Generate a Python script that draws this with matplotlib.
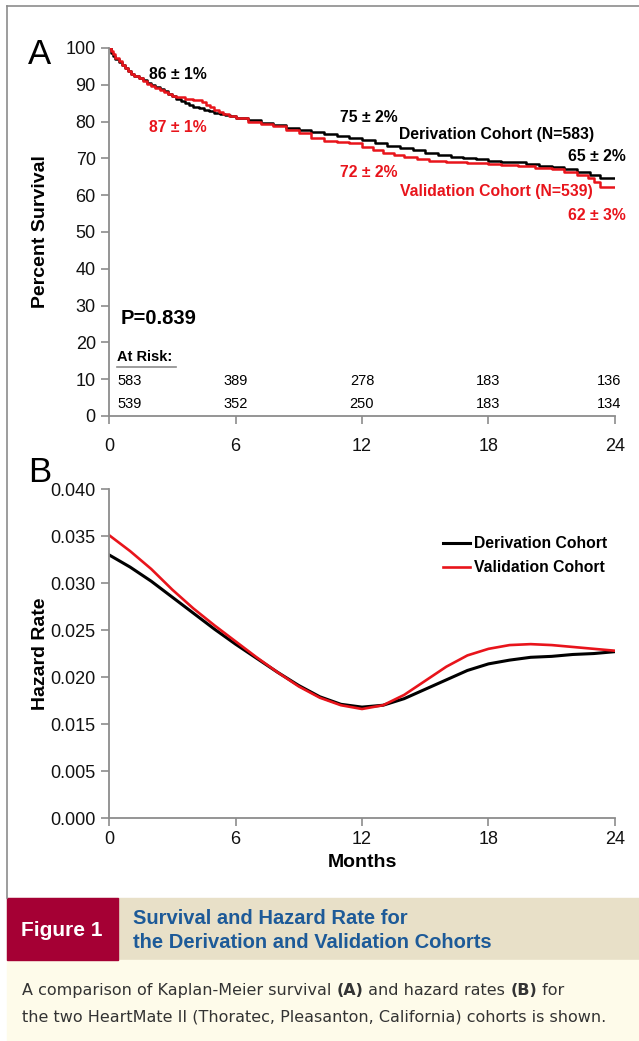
import numpy as np
import matplotlib
matplotlib.use('Agg')
import matplotlib.pyplot as plt
from matplotlib.lines import Line2D
from matplotlib.patches import Rectangle

plt.rcParams['font.family'] = ['Liberation Sans', 'DejaVu Sans']

# Kaplan-Meier survival, months vs percent
deriv_t = [0, 0.1, 0.2, 0.3, 0.45, 0.6, 0.75, 0.9, 1.05, 1.2, 1.4, 1.6, 1.8, 2.0, 2.2, 2.4,
           2.6, 2.8, 3.0, 3.2, 3.4, 3.6, 3.8, 4.0, 4.25, 4.5, 4.75, 5.0, 5.25, 5.5, 5.75, 6.0,
           6.6, 7.2, 7.8, 8.4, 9.0, 9.6, 10.2, 10.8, 11.4, 12.0, 12.6, 13.2, 13.8, 14.4, 15.0,
           15.6, 16.2, 16.8, 17.4, 18.0, 18.6, 19.2, 19.8, 20.4, 21.0, 21.6, 22.2, 22.8, 23.3, 24]
deriv_s = [100, 98.6, 97.8, 97.0, 96.2, 95.4, 94.6, 93.8, 93.0, 92.4, 91.8, 91.2, 90.6, 90.0,
           89.4, 88.8, 88.2, 87.6, 87.0, 86.2, 85.6, 85.0, 84.5, 84.0, 83.6, 83.2, 82.8, 82.4,
           82.0, 81.7, 81.4, 81.0, 80.5, 79.6, 79, 78.3, 77.8, 77.2, 76.6, 76, 75.5, 75, 74.3,
           73.5, 72.8, 72.2, 71.6, 71, 70.4, 70, 69.7, 69.3, 69.1, 69, 68.5, 68, 67.6, 67, 66.2,
           65.5, 64.7, 64.7]
valid_t = [0, 0.1, 0.2, 0.3, 0.45, 0.6, 0.75, 0.9, 1.05, 1.2, 1.4, 1.6, 1.8, 2.0, 2.2, 2.4,
           2.6, 2.8, 3.0, 3.2, 3.6, 4.0, 4.4, 4.6, 4.8, 5.0, 5.2, 5.4, 5.7, 6.0, 6.6, 7.2, 7.8,
           8.4, 9.0, 9.6, 10.2, 10.8, 11.4, 12.0, 12.5, 13.0, 13.5, 14.0, 14.6, 15.2, 16.0, 17.0,
           18.0, 18.6, 19.4, 20.2, 21.0, 21.6, 22.2, 22.7, 23.0, 23.3, 24]
valid_s = [100, 99.2, 98.4, 97.4, 96.4, 95.4, 94.6, 93.8, 93.0, 92.4, 91.8, 91.0, 90.2, 89.6,
           89.0, 88.5, 88.0, 87.5, 87.0, 86.7, 86.2, 85.8, 85.3, 84.6, 83.9, 83.2, 82.6, 82.0,
           81.5, 81, 80, 79.3, 78.8, 77.8, 76.8, 75.5, 74.7, 74.5, 74.2, 73, 72.3, 71.6, 71,
           70.3, 69.7, 69.2, 68.9, 68.8, 68.5, 68.2, 67.8, 67.5, 67, 66.3, 65.6, 64.8, 63.5,
           62.2, 62.2]

risk_months = [0, 6, 12, 18, 24]
risk_deriv = [583, 389, 278, 183, 136]
risk_valid = [539, 352, 250, 183, 134]

# hazard rate by month
haz_months = list(range(25))
haz_deriv = [0.0330, 0.0317, 0.0302, 0.0285, 0.0268, 0.0251, 0.0235, 0.0220, 0.0205, 0.0191,
             0.0179, 0.0171, 0.0168, 0.0170, 0.0177, 0.0187, 0.0197, 0.0207, 0.0214, 0.0218,
             0.0221, 0.0222, 0.0224, 0.0225, 0.0227]
haz_valid = [0.0351, 0.0334, 0.0315, 0.0293, 0.0273, 0.0255, 0.0238, 0.0221, 0.0205, 0.0190,
             0.0178, 0.0170, 0.0166, 0.0170, 0.0181, 0.0196, 0.0211, 0.0223, 0.0230, 0.0234,
             0.0235, 0.0234, 0.0232, 0.0230, 0.0228]
# the original axis skips 0.010 in its labels
haz_ticks = [0.005, 0.010, 0.015, 0.020, 0.025, 0.030, 0.035, 0.040]
haz_ticklabels = ['0.000', '0.005', '0.015', '0.020', '0.025', '0.030', '0.035', '0.040']

RED = '#e8141b'
GRAY = '#8c8c8c'

fig = plt.figure(figsize=(6.39, 10.41), dpi=100)

def style_axes(ax):
    for s in ['top', 'right']:
        ax.spines[s].set_visible(False)
    for s in ['left', 'bottom']:
        ax.spines[s].set_color(GRAY)
        ax.spines[s].set_linewidth(1.3)
    ax.tick_params(colors=GRAY, width=1.2, length=6, labelcolor='#111111', labelsize=13)

# ---- panel A
ax1 = fig.add_axes([0.1706, 0.6004, 0.7918, 0.3535])
ax1.step(deriv_t, deriv_s, where='post', color='black', lw=1.8)
ax1.step(valid_t, valid_s, where='post', color=RED, lw=1.8)
ax1.set_xlim(0, 24)
ax1.set_ylim(0, 100)
ax1.set_xticks([0, 6, 12, 18, 24])
ax1.set_yticks(range(0, 101, 10))
style_axes(ax1)
ax1.tick_params(axis='x', pad=10)
ax1.set_ylabel('Percent Survival', fontsize=14, fontweight='bold', labelpad=12)

lab = dict(fontsize=11.3, fontweight='bold', ha='center', va='center')
ax1.text(3.27, 92.7, '86 ± 1%', color='black', **lab)
ax1.text(3.27, 78.3, '87 ± 1%', color=RED, **lab)
ax1.text(12.3, 81.0, '75 ± 2%', color='black', **lab)
ax1.text(12.3, 66.3, '72 ± 2%', color=RED, **lab)
ax1.text(18.36, 76.6, 'Derivation Cohort (N=583)', color='black', **lab)
ax1.text(18.36, 60.9, 'Validation Cohort (N=539)', color=RED, **lab)
ax1.text(23.15, 70.4, '65 ± 2%', color='black', **lab)
ax1.text(23.15, 54.6, '62 ± 3%', color=RED, **lab)

ax1.text(0.55, 26.6, 'P=0.839', fontsize=14.5, fontweight='bold', va='center')
ax1.text(0.38, 16.0, 'At Risk:', fontsize=10.5, fontweight='bold', va='center')
ax1.plot([0.38, 3.2], [13.2, 13.2], color=GRAY, lw=1.2, clip_on=False)
for i, m in enumerate(risk_months):
    ha = 'left' if i == 0 else ('right' if i == len(risk_months) - 1 else 'center')
    x = 0.38 if i == 0 else (24.3 if i == len(risk_months) - 1 else m)
    ax1.text(x, 9.5, str(risk_deriv[i]), fontsize=10.5, ha=ha, va='center', clip_on=False)
    ax1.text(x, 3.3, str(risk_valid[i]), fontsize=10.5, ha=ha, va='center', clip_on=False)

fig.text(40 / 639, 1 - 55 / 1041, 'A', fontsize=25, ha='center', va='center')

# ---- panel B
ax2 = fig.add_axes([0.1706, 0.2142, 0.7918, 0.3160])
ax2.plot(haz_months, haz_deriv, color='black', lw=2.2, label='Derivation Cohort')
ax2.plot(haz_months, haz_valid, color=RED, lw=1.9, label='Validation Cohort')
ax2.set_xlim(0, 24)
ax2.set_ylim(0.005, 0.040)
ax2.set_xticks([0, 6, 12, 18, 24])
ax2.set_yticks(haz_ticks)
ax2.set_yticklabels(haz_ticklabels)
style_axes(ax2)
ax2.tick_params(axis='x', pad=3)
ax2.set_ylabel('Hazard Rate', fontsize=14, fontweight='bold', labelpad=1)
ax2.set_xlabel('Months', fontsize=14, fontweight='bold', labelpad=5)
ax2.legend(loc='upper left', bbox_to_anchor=(0.645, 0.88), frameon=False,
           prop={'weight': 'bold', 'size': 11.3}, handlelength=1.7, handletextpad=0.25,
           labelspacing=0.55, borderpad=0)

fig.text(40 / 639, 1 - 472 / 1041, 'B', fontsize=25, ha='center', va='center')

# ---- frame and caption block
fig.add_artist(Line2D([7 / 639, 1], [1 - 6 / 1041] * 2, color=GRAY, lw=1.2))
fig.add_artist(Line2D([7 / 639] * 2, [0.1374, 1 - 6 / 1041], color=GRAY, lw=1.2))
fig.patches.append(Rectangle((7 / 639, 0.0778), 1, 0.0596, transform=fig.transFigure,
                             color='#e8e0c8', zorder=0))
fig.patches.append(Rectangle((7 / 639, 0.0778), (118 - 7) / 639, 0.0596,
                             transform=fig.transFigure, color='#a50034', zorder=1))
fig.patches.append(Rectangle((7 / 639, 0), 1, 0.0778, transform=fig.transFigure,
                             color='#fefbea', zorder=0))
fig.text(62 / 639, 0.1066, 'Figure 1', color='white', fontsize=15, fontweight='bold',
         ha='center', va='center')
fig.text(133 / 639, 0.118, 'Survival and Hazard Rate for', color='#1d5a98', fontsize=14.5,
         fontweight='bold', va='center')
fig.text(133 / 639, 0.0951, 'the Derivation and Validation Cohorts', color='#1d5a98',
         fontsize=14.5, fontweight='bold', va='center')

# caption body, bold parts placed after measuring the previous piece
body = dict(fontsize=11.5, color='#333333', va='baseline', family=['DejaVu Sans'])
pieces = [('A comparison of Kaplan-Meier survival ', 'normal'), ('(A)', 'bold'),
          (' and hazard rates ', 'normal'), ('(B)', 'bold'), (' for', 'normal')]
renderer = fig.canvas.get_renderer()
x = 22 / 639
for txt, w in pieces:
    t = fig.text(x, 0.0445, txt, fontweight=w, **body)
    bb = t.get_window_extent(renderer=renderer)
    x = bb.x1 / fig.bbox.width
fig.text(22 / 639, 0.0185, 'the two HeartMate II (Thoratec, Pleasanton, California) cohorts is shown.',
         **body)

fig.savefig('out.png', dpi=100)
